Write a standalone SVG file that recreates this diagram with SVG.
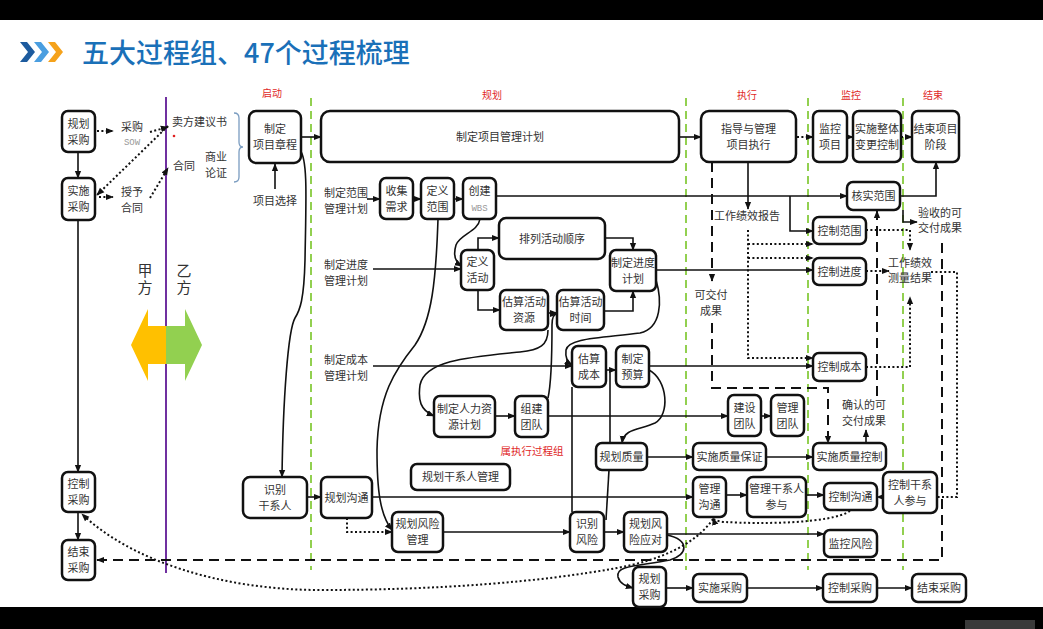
<svg xmlns="http://www.w3.org/2000/svg" width="1043" height="629" viewBox="0 0 1043 629">
<style>
.n rect{fill:#fff;stroke:#111;stroke-width:2.5}
.t,.n text{font-family:"Noto Sans CJK SC","Noto Sans",sans-serif;font-size:11px;fill:#333;text-anchor:middle}
.v{font-family:"Noto Sans CJK SC","Noto Sans",sans-serif;font-size:15px;fill:#333;writing-mode:vertical-rl;letter-spacing:2px}
.r{font-family:"Noto Sans CJK SC","Noto Sans",sans-serif;font-size:10px;fill:#e02828;text-anchor:middle}
.m{font-family:"Liberation Mono",monospace;font-size:9px;fill:#999;text-anchor:middle}
.c path{fill:none;stroke:#111;stroke-width:1.6}
.c path.d{stroke-dasharray:10 6;stroke-width:2}
.c path.o{stroke-dasharray:2 2.4;stroke-width:2}
.g{stroke:#92d050;stroke-width:2;stroke-dasharray:8 5;fill:none}
</style>
<defs>
<marker id="ah" viewBox="0 0 10 10" refX="9" refY="5" markerWidth="8" markerHeight="8" markerUnits="userSpaceOnUse" orient="auto"><path d="M0,1 L10,5 L0,9 Z" fill="#111"/></marker>
</defs>
<rect width="1043" height="629" fill="#fff"/>
<rect width="1043" height="20" fill="#000"/>
<rect y="607" width="1043" height="22" fill="#000"/>
<rect x="965" y="620" width="70" height="9" fill="#3a3a3a"/>
<!-- title -->
<g id="title">
<polygon points="20,42 27,42 35,52 27,62 20,62 28,52" fill="#1d5b9e"/>
<polygon points="34,42 41,42 49,52 41,62 34,62 42,52" fill="#4a9ee0"/>
<polygon points="48,42 55,42 63,52 55,62 48,62 56,52" fill="#f5a21b"/>
<text x="82" y="63" font-family="'Noto Sans CJK SC','Noto Sans',sans-serif" font-size="27" fill="#1a70b8" font-weight="500">五大过程组、47个过程梳理</text>
</g>
<!-- phase labels -->
<text class="r" x="272" y="97">启动</text>
<text class="r" x="492" y="99">规划</text>
<text class="r" x="747" y="99">执行</text>
<text class="r" x="851" y="99">监控</text>
<text class="r" x="933" y="99">结束</text>
<!-- separators -->
<path class="g" d="M311,98 V570 M686,98 V570 M808,98 V570 M903,98 V570"/>
<path d="M166,97 V573" stroke="#7030a0" stroke-width="2"/>
<!-- double arrow -->
<polygon points="166,326 148,326 148,309 131,345 148,381 148,364 166,364" fill="#ffc000"/>
<polygon points="166,326 185,326 185,309 202,345 185,381 185,364 166,364" fill="#92d050"/>
<text class="v" x="145" y="263">甲方</text>
<text class="v" x="184" y="263">乙方</text>
<!-- labels -->
<text class="t" x="132" y="131">采购</text>
<text class="m" x="132" y="145">SOW</text>
<text class="t" x="132" y="196">授予</text>
<text class="t" x="132" y="212">合同</text>
<text class="t" x="172" y="126" style="text-anchor:start">卖方建议书</text>
<circle cx="174" cy="136" r="1.3" fill="#e02020"/>
<text class="t" x="173" y="170" style="text-anchor:start">合同</text>
<text class="t" x="216" y="161">商业</text>
<text class="t" x="216" y="177">论证</text>
<path d="M234,113 Q239,113 239,118 V142 Q239,147 243,147 Q239,147 239,152 V177 Q239,182 234,182" fill="none" stroke="#7a9cc0" stroke-width="1.3"/>
<text class="t" x="275" y="205">项目选择</text>
<text class="t" x="346" y="197">制定范围</text>
<text class="t" x="346" y="213">管理计划</text>
<text class="t" x="346" y="269">制定进度</text>
<text class="t" x="346" y="285">管理计划</text>
<text class="t" x="346" y="364">制定成本</text>
<text class="t" x="346" y="380">管理计划</text>
<text class="t" x="747" y="220">工作绩效报告</text>
<text class="t" x="711" y="299">可交付</text>
<text class="t" x="711" y="315">成果</text>
<text class="t" x="940" y="217">验收的可</text>
<text class="t" x="940" y="232">交付成果</text>
<text class="t" x="910" y="267">工作绩效</text>
<text class="t" x="910" y="282">测量结果</text>
<text class="t" x="864" y="409">确认的可</text>
<text class="t" x="864" y="425">交付成果</text>
<text class="r" x="532" y="455" style="font-size:10.5px">属执行过程组</text>
<!-- connectors -->
<g id="connectors" class="c">
<path d="M78,152 V178" marker-end="url(#ah)"/>
<path d="M78,220 V472" marker-end="url(#ah)"/>
<path d="M78,512 V540" marker-end="url(#ah)"/>
<path class="o" d="M97,131 H113" marker-end="url(#ah)"/>
<path class="o" d="M99,197 H113" marker-end="url(#ah)"/>
<path class="o" d="M168,126 L97,195" marker-end="url(#ah)"/>
<path class="o" d="M150,132 L168,127" marker-end="url(#ah)"/>
<path class="o" d="M150,198 L168,168" marker-end="url(#ah)"/>
<path d="M275,189 V164" marker-end="url(#ah)"/>
<path d="M301,137 H321" marker-end="url(#ah)"/>
<path d="M300,150 C308,160 306,200 305,260 C304,300 300,310 295,318 C288,330 283,400 282,477" marker-end="url(#ah)"/>
<path d="M307,497 H321" marker-end="url(#ah)"/>
<path d="M679,137 H701" marker-end="url(#ah)"/>
<path class="o" d="M797,137 H813" marker-end="url(#ah)"/>
<path d="M847,137 H853" marker-end="url(#ah)"/>
<path class="o" d="M901,137 H912" marker-end="url(#ah)"/>
<path d="M367,199 H380" marker-end="url(#ah)"/>
<path d="M413,199 H421" marker-end="url(#ah)"/>
<path d="M454,199 H463" marker-end="url(#ah)"/>
<path d="M496,196 H847" marker-end="url(#ah)"/>
<path d="M900,196 H936 V162" marker-end="url(#ah)"/>
<path d="M790,196 V231 H813" marker-end="url(#ah)"/>
<path d="M373,269 H461" marker-end="url(#ah)"/>
<path d="M480,219 C478,232 460,234 456,245 C453,255 455,262 462,266" marker-end="url(#ah)"/>
<path d="M478,250 V238 H499" marker-end="url(#ah)"/>
<path d="M478,290 V310 H500" marker-end="url(#ah)"/>
<path d="M548,313 H557" marker-end="url(#ah)"/>
<path d="M605,238 H633 V250" marker-end="url(#ah)"/>
<path d="M604,311 H633 V291" marker-end="url(#ah)"/>
<path d="M656,270 H813" marker-end="url(#ah)"/>
<path d="M373,366 H572" marker-end="url(#ah)"/>
<path d="M606,370 H616" marker-end="url(#ah)"/>
<path d="M649,366 H813" marker-end="url(#ah)"/>
<path d="M656,280 C662,300 662,328 640,333 C600,338 568,338 566,350 C565,358 567,362 572,365" marker-end="url(#ah)"/>
<path d="M548,330 C548,345 540,350 520,352 C470,357 425,360 420,385 C418,400 420,410 434,416" marker-end="url(#ah)"/>
<path d="M548,398 C552,380 552,345 552,325 C552,318 554,314 557,314" marker-end="url(#ah)"/>
<path d="M649,370 C668,380 670,415 655,423 C640,430 624,428 622,443" marker-end="url(#ah)"/>
<path d="M610,372 V443"/>
<path d="M572,387 V512"/>
<path d="M609,470 L606,520"/>
<path d="M495,416 H515" marker-end="url(#ah)"/>
<path d="M548,416 H728" marker-end="url(#ah)"/>
<path d="M761,416 H771" marker-end="url(#ah)"/>
<path d="M647,457 H693" marker-end="url(#ah)"/>
<path d="M766,457 H813" marker-end="url(#ah)"/>
<path d="M866,443 V430" marker-end="url(#ah)"/>
<path d="M372,497 H693" marker-end="url(#ah)"/>
<path class="o" d="M347,518 V532 H392" marker-end="url(#ah)"/>
<path d="M438,219 C436,280 432,320 415,345 C395,370 378,395 377,450 C377,490 380,515 392,530" marker-end="url(#ah)"/>
<path d="M443,532 H570" marker-end="url(#ah)"/>
<path d="M604,532 H624" marker-end="url(#ah)"/>
<path d="M667,534 H824" marker-end="url(#ah)"/>
<path d="M667,535 C690,540 688,555 670,560 C640,566 615,565 618,577 C620,584 626,586 633,588" marker-end="url(#ah)"/>
<path d="M666,588 H693" marker-end="url(#ah)"/>
<path d="M747,588 H823" marker-end="url(#ah)"/>
<path d="M877,588 H912" marker-end="url(#ah)"/>
<path d="M726,495 H747" marker-end="url(#ah)"/>
<path d="M806,495 H824" marker-end="url(#ah)"/>
<path class="o" d="M931,272 H957 V497 H877" marker-end="url(#ah)"/>
<path class="o" d="M850,511 C830,524 760,524 725,522 Q714,521 713,518" marker-end="url(#ah)"/>
<path class="o" d="M713,519 C695,545 660,560 617,568 C540,582 440,590 320,590 C220,590 130,560 82,514" marker-end="url(#ah)"/>
<path class="d" d="M942,243 V560 H97" marker-end="url(#ah)"/>
<path class="d" d="M712,162 V281" marker-end="url(#ah)"/>
<path class="d" d="M712,323 V388 H828 V443" marker-end="url(#ah)"/>
<path d="M748,162 V209" marker-end="url(#ah)"/>
<path class="o" d="M748,230 V358 H813" marker-end="url(#ah)"/>
<path class="o" d="M748,244 H813" marker-end="url(#ah)"/>
<path class="o" d="M748,258 H813" marker-end="url(#ah)"/>
<path class="d" d="M877,396 V211" marker-end="url(#ah)"/>
<path d="M903,210 V222 H917" marker-end="url(#ah)"/>
<path class="o" d="M866,230 H910 V250" marker-end="url(#ah)"/>
<path class="o" d="M866,271 H889" marker-end="url(#ah)"/>
<path class="o" d="M866,367 H910 V297" marker-end="url(#ah)"/>
</g>
<!-- nodes -->
<g id="n1" class="n"><rect x="62" y="111" width="33" height="41" rx="6"/><text x="78.5" y="127.5">规划</text><text x="78.5" y="143.5">采购</text></g>
<g id="n2" class="n"><rect x="62" y="178" width="33" height="42" rx="6"/><text x="78.5" y="195">实施</text><text x="78.5" y="211">采购</text></g>
<g id="n3" class="n"><rect x="62" y="472" width="33" height="40" rx="6"/><text x="78.5" y="488">控制</text><text x="78.5" y="504">采购</text></g>
<g id="n4" class="n"><rect x="62" y="540" width="33" height="40" rx="6"/><text x="78.5" y="556">结束</text><text x="78.5" y="572">采购</text></g>
<g id="n5" class="n"><rect x="249" y="111" width="52" height="52" rx="7"/><text x="275" y="133">制定</text><text x="275" y="149">项目章程</text></g>
<g id="n6" class="n"><rect x="243" y="477" width="64" height="41" rx="7"/><text x="275" y="493.5">识别</text><text x="275" y="509.5">干系人</text></g>
<g id="n7" class="n"><rect x="321" y="111" width="358" height="51" rx="9"/><text x="500" y="140.5">制定项目管理计划</text></g>
<g id="n8" class="n"><rect x="701" y="111" width="95" height="51" rx="8"/><text x="748.5" y="132.5">指导与管理</text><text x="748.5" y="148.5">项目执行</text></g>
<g id="n9" class="n"><rect x="813" y="111" width="34" height="51" rx="6"/><text x="830" y="132.5">监控</text><text x="830" y="148.5">项目</text></g>
<g id="n10" class="n"><rect x="853" y="111" width="48" height="51" rx="6"/><text x="877" y="132.5">实施整体</text><text x="877" y="148.5">变更控制</text></g>
<g id="n11" class="n"><rect x="912" y="111" width="47" height="51" rx="6"/><text x="935.5" y="132.5">结束项目</text><text x="935.5" y="148.5">阶段</text></g>
<g id="n12" class="n"><rect x="380" y="178" width="33" height="41" rx="6"/><text x="396.5" y="194.5">收集</text><text x="396.5" y="210.5">需求</text></g>
<g id="n13" class="n"><rect x="421" y="178" width="33" height="41" rx="6"/><text x="437.5" y="194.5">定义</text><text x="437.5" y="210.5">范围</text></g>
<g id="n14" class="n"><rect x="463" y="178" width="33" height="41" rx="6"/><text x="479.5" y="194.5">创建</text><text x="479.5" y="210.5" class="m" style="font-family:'Liberation Mono',monospace;font-size:9px;fill:#999">WBS</text></g>
<g id="n15" class="n"><rect x="847" y="182" width="53" height="28" rx="6"/><text x="873.5" y="200">核实范围</text></g>
<g id="n16" class="n"><rect x="499" y="218" width="106" height="41" rx="7"/><text x="552" y="242.5">排列活动顺序</text></g>
<g id="n17" class="n"><rect x="461" y="250" width="33" height="40" rx="6"/><text x="477.5" y="266">定义</text><text x="477.5" y="282">活动</text></g>
<g id="n18" class="n"><rect x="610" y="250" width="46" height="41" rx="6"/><text x="633" y="266.5">制定进度</text><text x="633" y="282.5">计划</text></g>
<g id="n19" class="n"><rect x="500" y="290" width="48" height="40" rx="6"/><text x="524" y="306">估算活动</text><text x="524" y="322">资源</text></g>
<g id="n20" class="n"><rect x="557" y="290" width="47" height="40" rx="6"/><text x="580.5" y="306">估算活动</text><text x="580.5" y="322">时间</text></g>
<g id="n21" class="n"><rect x="813" y="217" width="53" height="27" rx="6"/><text x="839.5" y="234.5">控制范围</text></g>
<g id="n22" class="n"><rect x="813" y="258" width="53" height="27" rx="6"/><text x="839.5" y="275.5">控制进度</text></g>
<g id="n23" class="n"><rect x="572" y="346" width="34" height="41" rx="6"/><text x="589" y="362.5">估算</text><text x="589" y="378.5">成本</text></g>
<g id="n24" class="n"><rect x="616" y="346" width="33" height="41" rx="6"/><text x="632.5" y="362.5">制定</text><text x="632.5" y="378.5">预算</text></g>
<g id="n25" class="n"><rect x="813" y="353" width="53" height="28" rx="6"/><text x="839.5" y="371">控制成本</text></g>
<g id="n26" class="n"><rect x="434" y="396" width="61" height="41" rx="6"/><text x="464.5" y="412.5">制定人力资</text><text x="464.5" y="428.5">源计划</text></g>
<g id="n27" class="n"><rect x="515" y="396" width="33" height="41" rx="6"/><text x="531.5" y="412.5">组建</text><text x="531.5" y="428.5">团队</text></g>
<g id="n28" class="n"><rect x="728" y="395" width="33" height="41" rx="6"/><text x="744.5" y="411.5">建设</text><text x="744.5" y="427.5">团队</text></g>
<g id="n29" class="n"><rect x="771" y="395" width="33" height="41" rx="6"/><text x="787.5" y="411.5">管理</text><text x="787.5" y="427.5">团队</text></g>
<g id="n30" class="n"><rect x="596" y="443" width="51" height="27" rx="6"/><text x="621.5" y="460.5">规划质量</text></g>
<g id="n31" class="n"><rect x="693" y="443" width="73" height="27" rx="6"/><text x="729.5" y="460.5">实施质量保证</text></g>
<g id="n32" class="n"><rect x="813" y="443" width="73" height="27" rx="6"/><text x="849.5" y="460.5">实施质量控制</text></g>
<g id="n33" class="n"><rect x="411" y="464" width="99" height="26" rx="6"/><text x="460.5" y="481">规划干系人管理</text></g>
<g id="n34" class="n"><rect x="321" y="477" width="51" height="41" rx="6"/><text x="346.5" y="501.5">规划沟通</text></g>
<g id="n35" class="n"><rect x="392" y="512" width="51" height="40" rx="6"/><text x="417.5" y="528">规划风险</text><text x="417.5" y="544">管理</text></g>
<g id="n36" class="n"><rect x="570" y="512" width="34" height="40" rx="6"/><text x="587" y="528">识别</text><text x="587" y="544">风险</text></g>
<g id="n37" class="n"><rect x="624" y="512" width="43" height="40" rx="6"/><text x="645.5" y="528">规划风</text><text x="645.5" y="544">险应对</text></g>
<g id="n38" class="n"><rect x="693" y="477" width="33" height="40" rx="6"/><text x="709.5" y="493">管理</text><text x="709.5" y="509">沟通</text></g>
<g id="n39" class="n"><rect x="747" y="477" width="59" height="40" rx="6"/><text x="776.5" y="493">管理干系人</text><text x="776.5" y="509">参与</text></g>
<g id="n40" class="n"><rect x="824" y="483" width="53" height="27" rx="6"/><text x="850.5" y="500.5">控制沟通</text></g>
<g id="n41" class="n"><rect x="883" y="472" width="54" height="41" rx="6"/><text x="910" y="488.5">控制干系</text><text x="910" y="504.5">人参与</text></g>
<g id="n42" class="n"><rect x="824" y="530" width="53" height="27" rx="6"/><text x="850.5" y="547.5">监控风险</text></g>
<g id="n43" class="n"><rect x="633" y="567" width="33" height="40" rx="6"/><text x="649.5" y="583">规划</text><text x="649.5" y="599">采购</text></g>
<g id="n44" class="n"><rect x="693" y="574" width="54" height="28" rx="6"/><text x="720" y="592">实施采购</text></g>
<g id="n45" class="n"><rect x="823" y="574" width="54" height="28" rx="6"/><text x="850" y="592">控制采购</text></g>
<g id="n46" class="n"><rect x="912" y="574" width="54" height="28" rx="6"/><text x="939" y="592">结束采购</text></g>
</svg>
